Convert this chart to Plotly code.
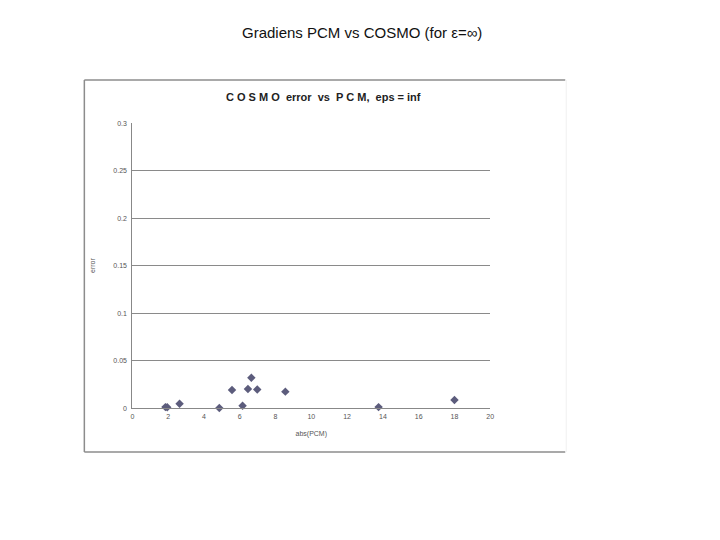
import plotly.graph_objects as go

pcm_abs = [1.85, 1.95, 2.64, 4.86, 5.57, 6.16, 6.46, 6.65, 6.98, 8.55, 13.76, 18.0]
cosmo_err = [0.001, 0.0008, 0.0046, 0.0, 0.019, 0.0025, 0.020, 0.032, 0.0195, 0.0173, 0.001, 0.0085]
x_ticks = [0, 2, 4, 6, 8, 10, 12, 14, 16, 18, 20]
y_ticks = [0, 0.05, 0.1, 0.15, 0.2, 0.25, 0.3]

OFF = 8  # default body margin of the page
W, H = 720 - 2 * OFF, 540 - 2 * OFF
# small empirical correction of the rendered placement
AX, BX = 0.9917, 1.7
AY, BY = 0.9866, 3.06
def px(x):
    x = (x - BX) / AX
    return (x - OFF) / W
def py(y):
    y = (y - BY) / AY
    return 1 - (y - OFF) / H

fig = go.Figure()
fig.add_trace(go.Scatter(
    x=pcm_abs, y=cosmo_err, mode="markers",
    marker=dict(symbol="diamond", size=6.5, color="#5c5c7c"),
    showlegend=False, cliponaxis=False,
))

fig.update_layout(
    width=W, height=H,
    margin=dict(l=0, r=0, t=0, b=0),
    paper_bgcolor="white", plot_bgcolor="white",
    font=dict(family="Liberation Sans, Arial", color="#555"),
    xaxis=dict(
        domain=[px(132), px(490)], range=[0, 20],
        tickvals=x_ticks, ticktext=[str(t) for t in x_ticks],
        showgrid=False, zeroline=False, showline=True, linecolor="#888", linewidth=1,
        ticks="", tickfont=dict(size=7, color="#555"), ticklabelstandoff=2,
        title=dict(text="abs(PCM)", font=dict(size=7, color="#555"), standoff=11),
        fixedrange=True,
    ),
    yaxis=dict(
        domain=[py(407), py(122)], range=[0, 0.3],
        tickvals=y_ticks, ticktext=["0", "0.05", "0.1", "0.15", "0.2", "0.25", "0.3"],
        showgrid=True, gridcolor="#8a8a8a", gridwidth=1, zeroline=False,
        showline=True, linecolor="#888", linewidth=1,
        ticks="", tickfont=dict(size=7, color="#555"), ticklabelstandoff=3,
        title=dict(text="error", font=dict(size=7, color="#555"), standoff=16),
        fixedrange=True,
    ),
    shapes=[
        dict(type="line", xref="paper", yref="paper", x0=px(84), x1=px(84), y0=py(79), y1=py(451),
             line=dict(color="#8c8c8c", width=1.5)),
        dict(type="line", xref="paper", yref="paper", x0=px(84), x1=px(565), y0=py(79), y1=py(79),
             line=dict(color="#8c8c8c", width=1.5)),
        dict(type="line", xref="paper", yref="paper", x0=px(84), x1=px(565), y0=py(451), y1=py(451),
             line=dict(color="#8c8c8c", width=1.5)),
        dict(type="line", xref="paper", yref="paper", x0=px(566), x1=px(566), y0=py(79), y1=py(451),
             line=dict(color="#f0f0f0", width=1)),
    ],
    annotations=[
        dict(text="Gradiens PCM vs COSMO (for ε=∞)", xref="paper", yref="paper",
             x=px(362), y=py(31), showarrow=False, xanchor="center", yanchor="middle",
             font=dict(size=15, color="#111", family="Liberation Sans, Arial")),
        dict(text="<b>C O S M O  error  vs  P C M,  eps = inf</b>", xref="paper", yref="paper",
             x=px(323), y=py(96), showarrow=False, xanchor="center", yanchor="middle",
             font=dict(size=11, color="#222", family="Liberation Sans, Arial")),
    ],
)

fig.write_html("out.html")
